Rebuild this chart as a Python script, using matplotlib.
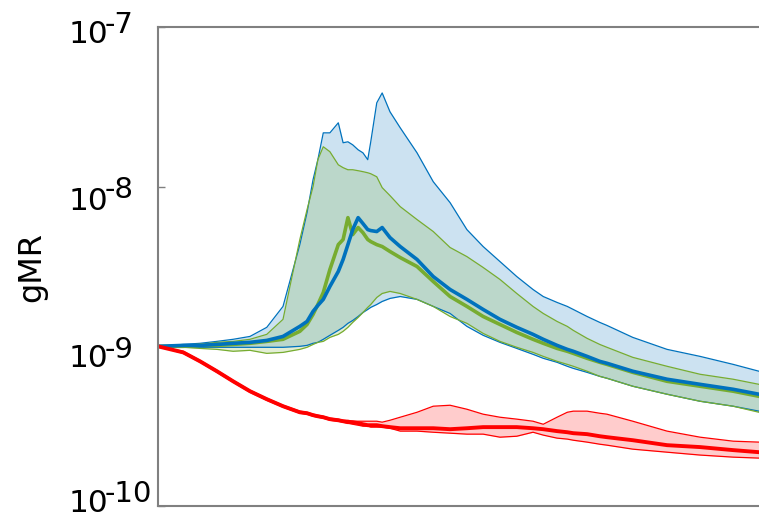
import numpy as np
import matplotlib
matplotlib.use("Agg")
import matplotlib.pyplot as plt

# tempo (escala arbitraria, sem rotulos no eixo x)
t = [0, 4.2, 7.0, 9.8, 12.5, 15.3, 18.1, 20.8, 23.6, 24.8,
     25.8, 26.6, 27.5, 28.6, 30.0, 30.8, 31.6, 32.4, 33.3, 34.1,
     34.9, 35.4, 36.4, 37.3, 38.6, 40.3, 43.1, 45.8, 48.6, 51.4,
     54.1, 56.9, 59.7, 62.4, 64.1, 66.4, 68.1, 69.1, 71.4, 73.5,
     74.7, 79.0, 84.7, 90.2, 95.7, 100]

# log10(gMR)
azul_sup = [-9.000, -8.988, -8.981, -8.969, -8.956, -8.938, -8.881, -8.750, -8.363, -8.163,
            -7.956, -7.831, -7.663, -7.663, -7.600, -7.725, -7.719, -7.738, -7.769, -7.788,
            -7.831, -7.719, -7.475, -7.413, -7.531, -7.631, -7.788, -7.969, -8.100, -8.269,
            -8.375, -8.469, -8.563, -8.644, -8.688, -8.725, -8.750, -8.769, -8.813, -8.850,
            -8.869, -8.944, -9.019, -9.063, -9.113, -9.156]
azul_inf = [-9.000, -9.006, -9.006, -9.006, -9.006, -9.006, -9.006, -9.006, -9.000, -8.994,
            -8.981, -8.975, -8.956, -8.931, -8.900, -8.881, -8.856, -8.838, -8.813, -8.788,
            -8.769, -8.756, -8.738, -8.719, -8.700, -8.688, -8.706, -8.750, -8.794, -8.875,
            -8.931, -8.975, -9.013, -9.050, -9.075, -9.100, -9.125, -9.138, -9.163, -9.188,
            -9.200, -9.250, -9.300, -9.344, -9.375, -9.406]
azul_med = [-9.000, -8.994, -8.994, -8.988, -8.981, -8.975, -8.963, -8.938, -8.875, -8.844,
            -8.781, -8.744, -8.706, -8.625, -8.531, -8.456, -8.363, -8.269, -8.194, -8.231,
            -8.269, -8.275, -8.281, -8.256, -8.319, -8.375, -8.456, -8.563, -8.644, -8.706,
            -8.769, -8.831, -8.881, -8.925, -8.956, -8.994, -9.019, -9.031, -9.063, -9.094,
            -9.106, -9.156, -9.206, -9.238, -9.269, -9.300]

verde_sup = [-9.000, -8.994, -8.988, -8.975, -8.969, -8.956, -8.925, -8.831, -8.331, -8.144,
             -8.000, -7.831, -7.750, -7.781, -7.863, -7.881, -7.894, -7.894, -7.900, -7.906,
             -7.913, -7.919, -7.938, -8.006, -8.056, -8.125, -8.206, -8.281, -8.381, -8.438,
             -8.506, -8.581, -8.669, -8.750, -8.794, -8.844, -8.875, -8.900, -8.950, -8.988,
             -9.006, -9.069, -9.125, -9.175, -9.206, -9.238]
verde_inf = [-9.000, -9.006, -9.013, -9.019, -9.031, -9.025, -9.044, -9.038, -9.019, -9.006,
             -8.988, -8.975, -8.969, -8.944, -8.925, -8.906, -8.881, -8.850, -8.819, -8.788,
             -8.756, -8.738, -8.694, -8.669, -8.656, -8.669, -8.706, -8.750, -8.813, -8.856,
             -8.919, -8.969, -9.006, -9.038, -9.063, -9.094, -9.113, -9.125, -9.156, -9.188,
             -9.200, -9.250, -9.300, -9.344, -9.375, -9.413]
verde_med = [-9.000, -9.000, -8.994, -8.994, -8.988, -8.981, -8.969, -8.956, -8.906, -8.863,
             -8.800, -8.738, -8.663, -8.519, -8.363, -8.331, -8.194, -8.300, -8.256, -8.288,
             -8.331, -8.344, -8.363, -8.375, -8.406, -8.444, -8.500, -8.594, -8.688, -8.750,
             -8.813, -8.863, -8.913, -8.956, -8.981, -9.013, -9.031, -9.044, -9.075, -9.100,
             -9.113, -9.163, -9.219, -9.250, -9.281, -9.313]

verm_sup = [-9.000, -9.031, -9.088, -9.150, -9.213, -9.275, -9.325, -9.369, -9.406, -9.413,
            -9.425, -9.431, -9.438, -9.450, -9.456, -9.463, -9.463, -9.469, -9.469, -9.469,
            -9.469, -9.469, -9.469, -9.475, -9.463, -9.444, -9.413, -9.375, -9.369, -9.394,
            -9.425, -9.444, -9.456, -9.469, -9.488, -9.444, -9.413, -9.406, -9.406, -9.419,
            -9.425, -9.469, -9.531, -9.569, -9.594, -9.600]
verm_inf = [-9.000, -9.044, -9.100, -9.163, -9.225, -9.288, -9.338, -9.381, -9.419, -9.425,
            -9.438, -9.444, -9.450, -9.463, -9.469, -9.475, -9.481, -9.488, -9.494, -9.500,
            -9.500, -9.506, -9.506, -9.506, -9.513, -9.531, -9.531, -9.538, -9.544, -9.550,
            -9.550, -9.569, -9.563, -9.538, -9.556, -9.575, -9.581, -9.588, -9.600, -9.613,
            -9.619, -9.644, -9.663, -9.681, -9.694, -9.700]
verm_med = [-9.000, -9.038, -9.094, -9.156, -9.219, -9.281, -9.331, -9.375, -9.413, -9.419,
            -9.431, -9.438, -9.444, -9.456, -9.463, -9.469, -9.475, -9.475, -9.481, -9.488,
            -9.494, -9.494, -9.494, -9.500, -9.506, -9.513, -9.513, -9.513, -9.519, -9.513,
            -9.506, -9.506, -9.506, -9.513, -9.519, -9.531, -9.538, -9.544, -9.550, -9.563,
            -9.569, -9.588, -9.619, -9.631, -9.650, -9.663]

# rotulos do eixo y
expoentes = [-7, -8, -9, -10]

azul = "#0072BD"
verde = "#77AC30"
vermelho = "#FF0000"

fig = plt.figure(figsize=(7.59, 5.18), dpi=100)
ax = fig.add_axes([158 / 759, 12 / 518, 607 / 759, 479 / 518])

x = np.array(t)
series = [
    (azul_sup, azul_inf, azul),
    (verde_sup, verde_inf, verde),
    (verm_sup, verm_inf, vermelho),
]
for sup, inf, cor in series:
    ax.fill_between(x, 10 ** np.array(inf), 10 ** np.array(sup), color=cor, alpha=0.2, lw=0)
for sup, inf, cor in series:
    ax.plot(x, 10 ** np.array(sup), color=cor, lw=0.9)
    ax.plot(x, 10 ** np.array(inf), color=cor, lw=0.9)

ax.plot(x, 10 ** np.array(verde_med), color=verde, lw=2.6)
ax.plot(x, 10 ** np.array(azul_med), color=azul, lw=2.6)
ax.plot(x, 10 ** np.array(verm_med), color=vermelho, lw=2.8)

ax.set_yscale("log")
ax.set_ylim(1e-10, 1e-7)
ax.set_xlim(0, 101)
ax.set_xticks([])
ax.set_yticks([10.0 ** e for e in expoentes])
ax.set_yticklabels([])
ax.yaxis.set_minor_locator(matplotlib.ticker.NullLocator())
ax.tick_params(axis="y", direction="in", length=5, width=1, color="#808080")

# "10" e expoente em tamanho cheio, como na figura original
desloc_base = {-7: 16, -8: 23, -9: 21, -10: 6}
desloc_exp = {-7: 6, -8: 11, -9: 12, -10: -4}
for e in expoentes:
    ax.annotate("10", xy=(0, 10.0 ** e), xycoords=("axes fraction", "data"),
                xytext=(-89, -desloc_base[e]), textcoords="offset pixels",
                ha="left", va="baseline", fontsize=22.5, annotation_clip=False)
    ax.annotate("-" + str(-e), xy=(0, 10.0 ** e), xycoords=("axes fraction", "data"),
                xytext=(-53, -desloc_exp[e]), textcoords="offset pixels",
                ha="left", va="baseline", fontsize=21, annotation_clip=False)

for s in ax.spines.values():
    s.set_color("#808080")
    s.set_linewidth(1.5)

ax.set_ylabel("gMR", fontsize=23)
ax.yaxis.set_label_coords(-0.183, 0.5)

plt.savefig("out.png", dpi=100)
plt.close()
